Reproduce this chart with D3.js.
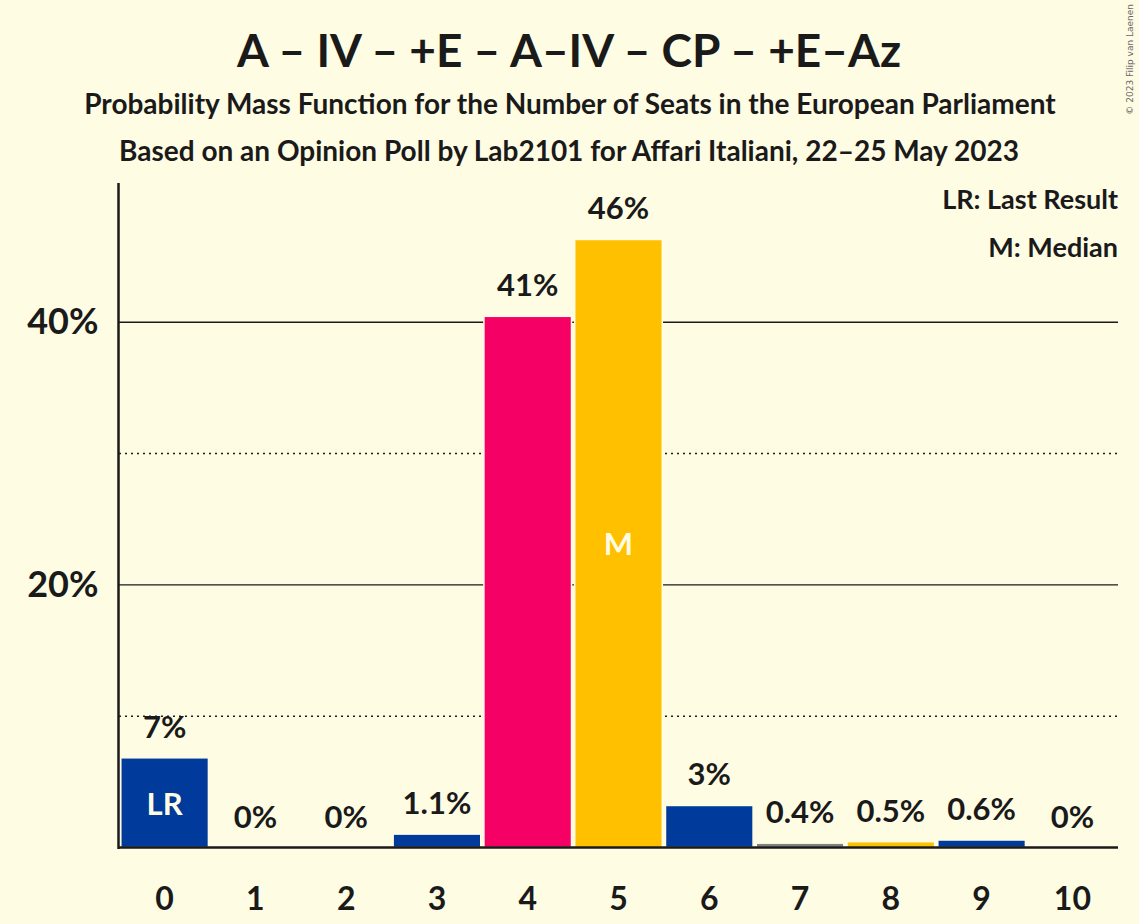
<!DOCTYPE html>
<html>
<head>
<meta charset="utf-8">
<script src="https://cdn.jsdelivr.net/npm/d3@7"></script>
<style>
  body { margin: 0; background: #FFFCE4; }
  svg { display: block; font-family: Lato, "Open Sans", sans-serif; }
</style>
</head>
<body>
<svg id="chart" width="1139" height="924"></svg>
<script>
// seats won and the probability of each (percent)
var seats = [0, 1, 2, 3, 4, 5, 6, 7, 8, 9, 10];
var probs = [6.83, 0, 0, 1.02, 40.45, 46.3, 3.2, 0.33, 0.44, 0.57, 0];
var labels = ["7%", "0%", "0%", "1.1%", "41%", "46%", "3%", "0.4%", "0.5%", "0.6%", "0%"];
var barColors = ["#003A9B", "#003A9B", "#003A9B", "#003A9B", "#F50064", "#FFC000", "#003A9B", "#808080", "#FFC000", "#003A9B", "#003A9B"];
var solidTicks = [20, 40];
var dottedTicks = [10, 30];
var lastResult = 0;
var median = 5;

var bg = "#FFFCE4";
var ink = "#1a1a1a";
var svg = d3.select("#chart");

var x = d3.scaleBand()
	.domain(seats)
	.range([119, 1118])
	.paddingInner(0.035)
	.paddingOuter(0.02);

var y = d3.scaleLinear()
	.domain([0, 50.6])
	.range([847.5, 183]);

/*
	Titles
*/
svg.append("text")
	.attr("x", 569).attr("y", 67)
	.attr("text-anchor", "middle")
	.style("font-size", "46px").style("font-weight", "bold")
	.attr("fill", ink)
	.text("A – IV – +E – A–IV – CP – +E–Az");

svg.append("text")
	.attr("x", 570).attr("y", 114)
	.attr("text-anchor", "middle")
	.style("font-size", "28px").style("font-weight", "bold")
	.attr("fill", ink)
	.text("Probability Mass Function for the Number of Seats in the European Parliament");

svg.append("text")
	.attr("x", 569).attr("y", 161)
	.attr("text-anchor", "middle")
	.style("font-size", "28px").style("font-weight", "bold")
	.attr("fill", ink)
	.text("Based on an Opinion Poll by Lab2101 for Affari Italiani, 22–25 May 2023");

svg.append("text")
	.attr("transform", "translate(1133,4) rotate(-90)")
	.attr("text-anchor", "end")
	.style("font-family", "'DejaVu Sans', sans-serif")
	.style("font-size", "9px")
	.attr("fill", "#666")
	.text("© 2023 Filip van Laenen");

/*
	Gridlines, drawn before the bars so the bars cover them
*/
svg.selectAll(".grid-solid")
	.data(solidTicks)
	.enter().append("line")
	.attr("x1", 119).attr("x2", 1118)
	.attr("y1", function(d) { return y(d); })
	.attr("y2", function(d) { return y(d); })
	.attr("stroke", ink).attr("stroke-width", 1.4);

svg.selectAll(".grid-dot")
	.data(dottedTicks)
	.enter().append("line")
	.attr("x1", 119).attr("x2", 1118)
	.attr("y1", function(d) { return y(d); })
	.attr("y2", function(d) { return y(d); })
	.attr("stroke", ink).attr("stroke-width", 1.6)
	.attr("stroke-dasharray", "2,4");

/*
	Bars
*/
svg.selectAll(".bar")
	.data(seats)
	.enter().append("rect")
	.attr("x", function(d) { return x(d); })
	.attr("width", x.bandwidth())
	.attr("y", function(d, i) { return y(probs[i]); })
	.attr("height", function(d, i) { return y(0) - y(probs[i]); })
	.attr("fill", function(d, i) { return barColors[i]; })
	.attr("stroke", bg)
	.attr("stroke-width", function(d, i) { return probs[i] > 0 ? 1.5 : 0; });

//value labels above bars
svg.selectAll(".val")
	.data(seats)
	.enter().append("text")
	.attr("x", function(d) { return x(d) + x.bandwidth() / 2; })
	.attr("y", function(d, i) { return y(probs[i]) - 20; })
	.attr("text-anchor", "middle")
	.style("font-size", "31px").style("font-weight", "bold")
	.attr("fill", ink)
	.text(function(d, i) { return labels[i]; });

//LR and M markers inside bars
[[lastResult, "LR"], [median, "M"]].forEach(function(m) {
	var i = seats.indexOf(m[0]);
	svg.append("text")
		.attr("x", x(m[0]) + x.bandwidth() / 2)
		.attr("y", (y(probs[i]) + y(0)) / 2 + 1)
		.attr("dy", "0.35em")
		.attr("text-anchor", "middle")
		.style("font-size", "31px").style("font-weight", "bold")
		.attr("fill", bg)
		.text(m[1]);
});

/*
	Axes
*/
var xAxis = svg.append("g")
	.attr("transform", "translate(0," + y(0) + ")")
	.call(d3.axisBottom(x).tickSize(0).tickPadding(40));
xAxis.select(".domain").attr("d", "M118,0H1118").attr("stroke", ink).attr("stroke-width", 2.5);
xAxis.selectAll("text")
	.style("font-size", "32px").style("font-weight", "bold")
	.style("font-family", "Lato, sans-serif")
	.attr("fill", ink);

var yAxis = svg.append("g")
	.attr("transform", "translate(118.5,0)")
	.call(d3.axisLeft(y).tickValues(solidTicks).tickSize(0).tickPadding(20)
		.tickFormat(function(d) { return d + "%"; }));
yAxis.select(".domain").attr("d", "M0,183V849").attr("stroke", ink).attr("stroke-width", 2.5);
yAxis.selectAll("text")
	.style("font-size", "36px").style("font-weight", "bold")
	.style("font-family", "Lato, sans-serif")
	.attr("fill", ink);

/*
	Legend
*/
svg.append("text")
	.attr("x", 1118).attr("y", 209)
	.attr("text-anchor", "end")
	.style("font-size", "27px").style("font-weight", "bold")
	.attr("fill", ink)
	.text("LR: Last Result");

svg.append("text")
	.attr("x", 1118).attr("y", 257)
	.attr("text-anchor", "end")
	.style("font-size", "27px").style("font-weight", "bold")
	.attr("fill", ink)
	.text("M: Median");
</script>
</body>
</html>
